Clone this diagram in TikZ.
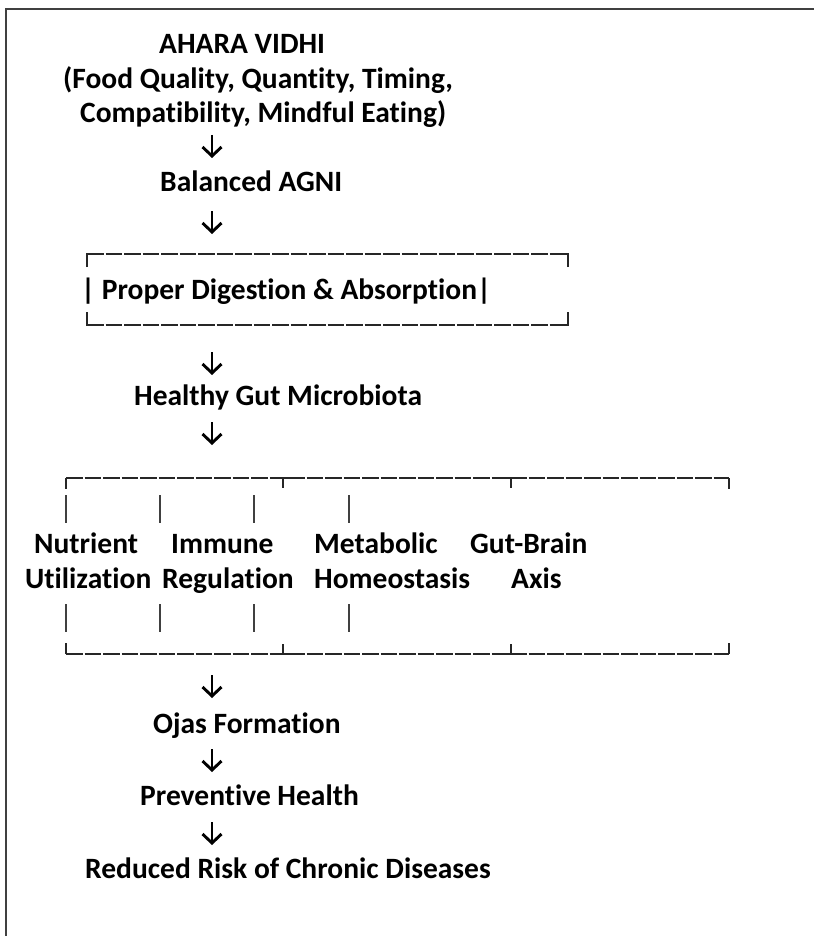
\documentclass[tikz,border=0pt]{standalone}
\usepackage{fontspec}
\setmainfont{Carlito}[Ligatures={NoCommon,NoContextual}]
\usetikzlibrary{arrows.meta}
\begin{document}
\begin{tikzpicture}[x=1pt,y=-1pt,
  txt/.style={anchor=base west, inner sep=0pt, font=\bfseries\fontsize{29.5}{34}\selectfont, text=black},
  arr/.style={line width=2.9pt, black, -{Straight Barb[length=9pt,width=19pt]}},
  brk/.style={line width=1.5pt, black!85, dash pattern=on 16.5pt off 2pt},
  tick/.style={line width=1.6pt, black!85},
  bar/.style={line width=1.8pt, black!75},
  frame/.style={line width=1.6pt, black!75}]
\useasboundingbox (0,0) rectangle (814,936);
% frame
\coordinate (fbl) at (6,936);
\coordinate (ftl) at (6,9);
\coordinate (ftr) at (814,9);
\draw[frame] (fbl) -- (ftl) -- (ftr);

% header
\node[txt] (ahara) at (159,54) {AHARA VIDHI};
\node[txt] (food) at (63,88.5) {(Food Quality, Quantity, Timing,};
\node[txt] (compat) at (80,123) {Compatibility, Mindful Eating)};
\node[txt] (agni) at (160,192) {Balanced AGNI};

% box around Proper Digestion
\coordinate (pb1) at (87,267); \coordinate (pb2) at (87,254);
\coordinate (pb3) at (568,254); \coordinate (pb4) at (568,267);
\coordinate (pb5) at (87,312); \coordinate (pb6) at (87,325);
\coordinate (pb7) at (568,325); \coordinate (pb8) at (568,312);
\draw[brk] (pb2) -- (pb3);
\draw[brk] (pb6) -- (pb7);
\draw[tick] (pb1) -- (pb2) -- ++(4,0);
\draw[tick] (pb4) -- (pb3) -- ++(-4,0);
\draw[tick] (pb5) -- (pb6) -- ++(4,0);
\draw[tick] (pb8) -- (pb7) -- ++(-4,0);
\node[txt] (pda) at (81,299) {| Proper Digestion \& Absorption|};

\node[txt] (gut) at (134,405) {Healthy Gut Microbiota};

% big bracket
\coordinate (bl) at (66,478); \coordinate (t1) at (283,478);
\coordinate (t2) at (511,478); \coordinate (br) at (729,478);
\coordinate (ll) at (66,654); \coordinate (u1) at (283,654);
\coordinate (u2) at (511,654); \coordinate (lr) at (729,654);
\draw[brk] (bl) -- (br);
\draw[brk] (ll) -- (lr);
\draw[tick] (bl) -- ++(0,11);
\draw[tick] (br) -- ++(0,11);
\draw[tick] (t1) -- ++(0,10);
\draw[tick] (t2) -- ++(0,10);
\draw[tick] (t1) ++(-7,0) -- ++(14,0);
\draw[tick] (t2) ++(-7,0) -- ++(14,0);
\draw[tick] (ll) -- ++(0,-11);
\draw[tick] (lr) -- ++(0,-11);
\draw[tick] (u1) -- ++(0,-10);
\draw[tick] (u2) -- ++(0,-10);
\draw[tick] (u1) ++(-7,0) -- ++(14,0);
\draw[tick] (u2) ++(-7,0) -- ++(14,0);
\foreach \x/\n in {66/a,160/b,254/c,349/d}{
  \coordinate (up\n) at (\x,495); \coordinate (upe\n) at (\x,523);
  \coordinate (lo\n) at (\x,604); \coordinate (loe\n) at (\x,632);
  \draw[bar] (up\n) -- (upe\n);
  \draw[bar] (lo\n) -- (loe\n);
}
\node[txt] (nut) at (34,553) {Nutrient};
\node[txt] (imm) at (171,553) {Immune};
\node[txt] (met) at (314,553) {Metabolic};
\node[txt] (gbr) at (470,553) {Gut-Brain};
\node[txt] (uti) at (25,588) {Utilization};
\node[txt] (reg) at (162,588) {Regulation};
\node[txt] (hom) at (314,588) {Homeostasis};
\node[txt] (axi) at (511,588) {Axis};

\node[txt] (ojas) at (153,733) {Ojas Formation};
\node[txt] (prev) at (140,805) {Preventive Health};
\node[txt] (risk) at (85,878) {Reduced Risk of Chronic Diseases};

% arrows
\foreach \i/\ys/\ye in {1/135/158, 2/211/234, 3/352/375, 4/422/445, 5/675/698, 6/749/772, 7/822/845}{
  \coordinate (as\i) at (212,\ys);
  \coordinate (ae\i) at (212,\ye);
  \draw[arr] (as\i) -- (ae\i);
}
\end{tikzpicture}
\end{document}
